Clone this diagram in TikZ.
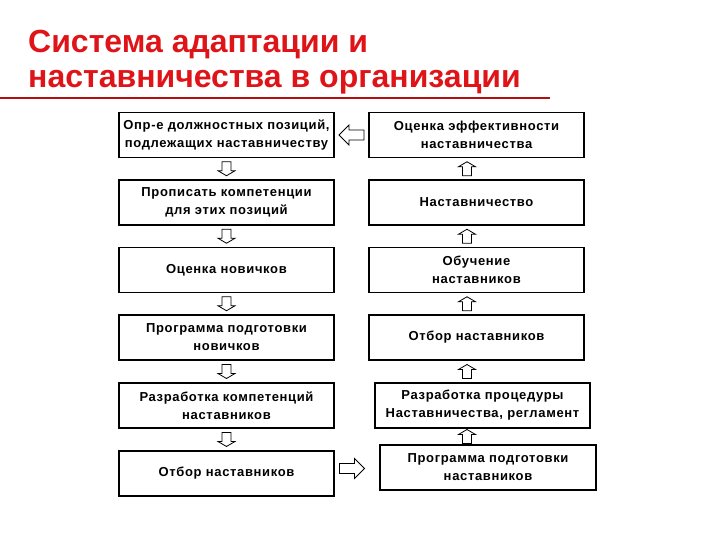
\documentclass[tikz,border=0pt]{standalone}
\usepackage{fontspec}
\setmainfont{Liberation Sans}
\usetikzlibrary{calc}
\definecolor{titlered}{RGB}{222,20,24}
\tikzset{
  box/.style={draw=black, line width=1.1pt, fill=white, minimum width=215pt, minimum height=45pt,
    align=center, inner sep=0pt, font=\fontsize{13}{18}\selectfont\bfseries\addfontfeature{LetterSpace=5}},
  blk/.style={draw=black, line width=0.8pt, fill=white, line join=miter},
  pics/downarr/.style={code={\draw[blk] (-4.5,-7) -- (4.5,-7) -- (4.5,2) -- (8.5,2) -- (0,7) -- (-8.5,2) -- (-4.5,2) -- cycle;}},
  pics/uparr/.style={code={\draw[blk] (-4.5,7) -- (4.5,7) -- (4.5,-2) -- (8.5,-2) -- (0,-7) -- (-8.5,-2) -- (-4.5,-2) -- cycle;}},
  pics/leftarr/.style={code={\draw[blk] (12.5,-5) -- (12.5,5) -- (-2.5,5) -- (-2.5,10) -- (-12.5,0) -- (-2.5,-10) -- (-2.5,-5) -- cycle;}},
  pics/rightarr/.style={code={\draw[blk] (-12.5,-5) -- (-12.5,5) -- (2.5,5) -- (2.5,10) -- (12.5,0) -- (2.5,-10) -- (2.5,-5) -- cycle;}},
}
\begin{document}
\begin{tikzpicture}[x=1pt,y=-1pt]
\useasboundingbox (0,0) rectangle (720,540);
% title
\node[anchor=base west, inner sep=0pt, text=titlered, font=\fontsize{32}{36}\selectfont\bfseries] (t1) at (28,53) {Система адаптации и};
\node[anchor=base west, inner sep=0pt, text=titlered, font=\fontsize{32}{36}\selectfont\bfseries] (t2) at (28,88) {наставничества в организации};
\coordinate (u1) at (0,98);
\coordinate (u2) at (550,98);
\draw[titlered!80!black, line width=1.8pt] (u1) -- (u2);
% left column
\node[box] (l1) at (226.5,135) {Опр-е должностных позиций,\\подлежащих наставничеству};
\node[box] (l2) at (226.5,202.5) {Прописать компетенции\\для этих позиций};
\node[box] (l3) at (226.5,270) {Оценка новичков};
\node[box] (l4) at (226.5,337.5) {Программа подготовки\\новичков};
\node[box] (l5) at (226.5,405.5) {Разработка компетенций\\наставников};
\node[box] (l6) at (226.5,473.5) {Отбор наставников};
% right column
\node[box] (r1) at (476.5,135) {Оценка эффективности\\наставничества};
\node[box] (r2) at (476.5,202.5) {Наставничество};
\node[box] (r3) at (476.5,270) {Обучение\\наставников};
\node[box] (r4) at (476.5,337.5) {Отбор наставников};
\node[box] (r5) at (482.5,405.5) {Разработка процедуры\\Наставничества, регламент};
\node[box, minimum width=216pt] (r6) at (488,467.5) {Программа подготовки\\наставников};
% down arrows (left)
\pic at ($(l1.south)!0.5!(l2.north)$) {downarr};
\pic at ($(l2.south)!0.5!(l3.north)$) {downarr};
\pic at ($(l3.south)!0.5!(l4.north)$) {downarr};
\pic at ($(l4.south)!0.5!(l5.north)$) {downarr};
\pic at ($(l5.south)!0.5!(l6.north)$) {downarr};
% up arrows (right)
\pic at ($(r1.south)!0.5!(r2.north)+(-9.5,0)$) {uparr};
\pic at ($(r2.south)!0.5!(r3.north)+(-9.5,0)$) {uparr};
\pic at ($(r3.south)!0.5!(r4.north)+(-9.5,0)$) {uparr};
\pic at ($(r4.south)!0.5!(r5.north)+(-12.5,0)$) {uparr};
\pic at ($(r5.south)!0.5!(r6.north)+(-18.25,0)$) {uparr};
% horizontal arrows
\pic at ($(l1.east)!0.5!(r1.west)$) {leftarr};
\pic at ($(l6.east)!0.5!(r6.west)+(-5,-2)$) {rightarr};
\end{tikzpicture}
\end{document}
